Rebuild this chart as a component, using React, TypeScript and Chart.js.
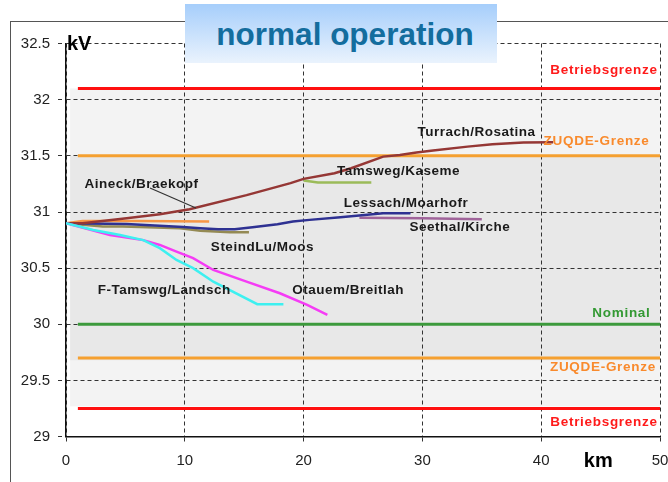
import React, { useEffect, useRef } from "react";
import { Chart, registerables } from "chart.js";

Chart.register(...registerables);

// ---- axes ----
const xTicks = [0, 10, 20, 30, 40, 50];
const yTicks = [29, 29.5, 30, 30.5, 31, 31.5, 32, 32.5];
const yTickLabels = ["29", "29.5", "30", "30.5", "31", "31.5", "32", "32.5"];

// ---- series (km, kV) ----
const turrachKm = [0, 1.4, 5.1, 7.9, 10.4, 15.2, 18.9, 20.0, 22.6, 24.0, 26.7, 28.1, 29.5, 30.9, 33.8, 35.9, 38.5, 41.0];
const turrachKv = [30.9, 30.9, 30.945, 30.98, 31.025, 31.15, 31.257, 31.295, 31.345, 31.39, 31.493, 31.508, 31.53, 31.547, 31.582, 31.604, 31.618, 31.62];

const aineckKm = [0, 1.4, 6, 12.05];
const aineckKv = [30.9, 30.92, 30.92, 30.915];

const lessachKm = [0, 5.1, 9.85, 11.3, 12.8, 14.2, 15.7, 17.8, 19.1, 20.5, 23.1, 26.7, 29.0];
const lessachKv = [30.9, 30.894, 30.867, 30.856, 30.847, 30.847, 30.865, 30.891, 30.915, 30.93, 30.954, 30.99, 30.99];

const steindlKm = [0, 3.1, 4.8, 9.6, 11.3, 13.8, 15.4];
const steindlKv = [30.9, 30.87, 30.872, 30.856, 30.834, 30.82, 30.82];

const tamswegKm = [20.0, 21.2, 25.7];
const tamswegKv = [31.28, 31.263, 31.263];

const seethalKm = [24.7, 30.0, 35.0];
const seethalKv = [30.95, 30.945, 30.936];

const fTamswgKm = [0, 2.3, 4.55, 6.5, 7.9, 9.3, 10.7, 12.4, 16.1, 18.3];
const fTamswgKv = [30.9, 30.84, 30.796, 30.75, 30.678, 30.573, 30.5, 30.38, 30.18, 30.18];

const otauemKm = [0, 3.7, 6.5, 7.9, 9.3, 10.7, 12.4, 15.2, 18.0, 20.3, 22.0];
const otauemKv = [30.9, 30.796, 30.75, 30.707, 30.647, 30.589, 30.484, 30.38, 30.277, 30.173, 30.084];

// ---- limit lines ----
const limitKm = [1, 50];
const betriebsUpper = 32.1;
const zuqdeUpper = 31.5;
const nominal = 30.0;
const zuqdeLower = 29.7;
const betriebsLower = 29.25;

// ---- background bands [low, high] ----
const bandKm = [0.35, 50];
const outerBand = [29.27, 32.1];
const innerBand = [29.68, 31.5];

// ---- text annotations (km, kV) ----
const seriesLabels = [
  { text: "Turrach/Rosatina", km: 34.55, kv: 31.707 },
  { text: "Tamsweg/Kaseme", km: 27.99, kv: 31.36 },
  { text: "Lessach/Moarhofr", km: 28.62, kv: 31.078 },
  { text: "Seethal/Kirche", km: 33.16, kv: 30.861 },
  { text: "Aineck/Braekopf", km: 6.36, kv: 31.248 },
  { text: "SteindLu/Moos", km: 16.54, kv: 30.687 },
  { text: "F-Tamswg/Landsch", km: 8.27, kv: 30.3 },
  { text: "Otauem/Breitlah", km: 23.74, kv: 30.3 },
];
const limitLabels = [
  { text: "Betriebsgrenze", km: 49.8, kv: 32.265, color: "#ff1a1a" },
  { text: "ZUQDE-Grenze", km: 44.66, kv: 31.627, color: "#f98a2c", center: true },
  { text: "Nominal", km: 49.2, kv: 30.099, color: "#339933" },
  { text: "ZUQDE-Grenze", km: 49.65, kv: 29.62, color: "#f98a2c" },
  { text: "Betriebsgrenze", km: 49.8, kv: 29.125, color: "#ff1a1a" },
];
const pointerKm = [7.07, 10.94];
const pointerKv = [31.214, 31.036];

const zip = (xs: number[], ys: number[]) => xs.map((x, i) => ({ x, y: ys[i] }));
const hline = (v: number) => limitKm.map((x) => ({ x, y: v }));

const FONT = "'Liberation Sans', Arial, sans-serif";

const bandsPlugin = {
  id: "bands",
  beforeDraw(chart: any) {
    const { ctx, scales } = chart;
    const xs = scales.x, ys = scales.y;
    const x0 = xs.getPixelForValue(bandKm[0]);
    const x1 = xs.getPixelForValue(bandKm[1]);
    ctx.save();
    ctx.fillStyle = "#f3f3f3";
    let t = ys.getPixelForValue(outerBand[1]);
    let b = ys.getPixelForValue(outerBand[0]);
    ctx.fillRect(x0, t, x1 - x0, b - t);
    ctx.fillStyle = "#e8e8e8";
    t = ys.getPixelForValue(innerBand[1]);
    b = ys.getPixelForValue(innerBand[0]);
    ctx.fillRect(x0, t, x1 - x0, b - t);
    ctx.restore();
  },
};

const textPlugin = {
  id: "texts",
  afterDatasetsDraw(chart: any) {
    const { ctx, scales, chartArea } = chart;
    const xs = scales.x, ys = scales.y;
    ctx.save();
    // pointer line
    ctx.strokeStyle = "#333";
    ctx.lineWidth = 1.2;
    ctx.beginPath();
    ctx.moveTo(xs.getPixelForValue(pointerKm[0]), ys.getPixelForValue(pointerKv[0]));
    ctx.lineTo(xs.getPixelForValue(pointerKm[1]), ys.getPixelForValue(pointerKv[1]));
    ctx.stroke();

    ctx.textBaseline = "middle";
    ctx.font = `bold 13.5px ${FONT}`;
    ctx.fillStyle = "#1a1a1a";
    ctx.textAlign = "center";
    (ctx as any).letterSpacing = "0.5px";
    for (const l of seriesLabels) {
      ctx.fillText(l.text, xs.getPixelForValue(l.km), ys.getPixelForValue(l.kv));
    }
    (ctx as any).letterSpacing = "0.7px";
    for (const l of limitLabels) {
      ctx.fillStyle = l.color;
      ctx.textAlign = l.center ? "center" : "right";
      ctx.fillText(l.text, xs.getPixelForValue(l.km), ys.getPixelForValue(l.kv));
    }
    (ctx as any).letterSpacing = "0px";
    // axis unit labels
    ctx.fillStyle = "#000";
    ctx.font = `bold 20px ${FONT}`;
    ctx.textAlign = "left";
    ctx.fillText("kV", chartArea.left + 1, chartArea.top + 0.5);
    ctx.textAlign = "center";
    ctx.fillText("km", xs.getPixelForValue(44.8), chartArea.bottom + 25);
    ctx.restore();
  },
};

export default function App() {
  const ref = useRef<HTMLCanvasElement | null>(null);

  useEffect(() => {
    if (!ref.current) return;
    const line = (data: any[], color: string, width = 2.5) => ({
      data,
      borderColor: color,
      backgroundColor: color,
      borderWidth: width,
      pointRadius: 0,
      tension: 0,
      fill: false,
    });
    const chart = new Chart(ref.current, {
      type: "line",
      data: {
        datasets: [
          line(zip(fTamswgKm, fTamswgKv), "#3df0f0"),
          line(zip(otauemKm, otauemKv), "#f53cf5"),
          line(zip(turrachKm, turrachKv), "#953735"),
          line(zip(lessachKm, lessachKv), "#2e3192"),
          line(zip(seethalKm, seethalKv), "#a0649a"),
          line(zip(steindlKm, steindlKv), "#948a54"),
          line(zip(aineckKm, aineckKv), "#f79646"),
          line(zip(tamswegKm, tamswegKv), "#9bbb59"),
          line(hline(nominal), "#3c9a3c", 3),
          line(hline(zuqdeUpper), "#f5a030", 3),
          line(hline(zuqdeLower), "#f5a030", 3),
          line(hline(betriebsUpper), "#ff1010", 3),
          line(hline(betriebsLower), "#ff1010", 3),
        ],
      },
      options: {
        animation: false,
        responsive: false,
        events: [],
        layout: { padding: { left: 0, right: 8, top: 43.5, bottom: 0 } },
        plugins: {
          legend: { display: false },
          tooltip: { enabled: false },
          title: { display: false },
        },
        scales: {
          x: {
            type: "linear",
            min: 0,
            max: 50,
            afterBuildTicks: (s: any) => {
              s.ticks = xTicks.map((v) => ({ value: v }));
            },
            afterFit: (s: any) => {
              s.height = 45.3;
              s.paddingLeft = 0;
              s.paddingRight = 0;
            },
            ticks: {
              color: "#222",
              font: { family: FONT, size: 15 },
              padding: 8,
              maxRotation: 0,
              autoSkip: false,
              callback: (v: any) => String(v),
            },
            grid: {
              color: "#333",
              lineWidth: 1,
              tickLength: 7,
              tickBorderDash: [4, 3],
              drawOnChartArea: true,
            },
            border: { display: true, color: "#111", width: 1.5, dash: [4, 3] },
          },
          y: {
            type: "linear",
            min: 29,
            max: 32.5,
            afterBuildTicks: (s: any) => {
              s.ticks = yTicks.map((v) => ({ value: v }));
            },
            afterFit: (s: any) => {
              s.width = 66;
              s.paddingTop = 0;
              s.paddingBottom = 0;
            },
            ticks: {
              color: "#222",
              font: { family: FONT, size: 15 },
              padding: 8,
              autoSkip: false,
              callback: (v: any) => {
                const i = yTicks.indexOf(Number(v));
                return i >= 0 ? yTickLabels[i] : "";
              },
            },
            grid: {
              color: "#333",
              lineWidth: 1,
              tickLength: 8,
              tickBorderDash: [4, 3],
            },
            border: { display: true, color: "#111", width: 1.5, dash: [4, 3] },
          },
        },
      },
      plugins: [bandsPlugin, textPlugin],
    } as any);
    return () => chart.destroy();
  }, []);

  return (
    <div
      style={{
        position: "absolute",
        left: 0,
        top: 0,
        width: 668,
        height: 482,
        overflow: "hidden",
        background: "#fff",
      }}
    >
      <div
        style={{
          position: "absolute",
          left: 10,
          top: 21,
          width: 700,
          height: 500,
          borderLeft: "1.5px solid #555",
          borderTop: "1.5px solid #555",
        }}
      />
      <canvas
        ref={ref}
        width={668}
        height={482}
        style={{ position: "absolute", left: 0, top: 0, width: 668, height: 482 }}
      />
      <div
        style={{
          position: "absolute",
          left: 185,
          top: 4,
          width: 312,
          height: 58.5,
          background: "linear-gradient(to bottom, #a6cefb, #eaf3fd)",
        }}
      >
        <div
          style={{
            position: "absolute",
            left: 8,
            right: 0,
            top: 10.4,
            lineHeight: "40px",
            textAlign: "center",
            fontFamily: FONT,
            fontWeight: "bold",
            fontSize: 31.5,
            color: "#136d9e",
            whiteSpace: "nowrap",
          }}
        >
          normal operation
        </div>
      </div>
    </div>
  );
}
